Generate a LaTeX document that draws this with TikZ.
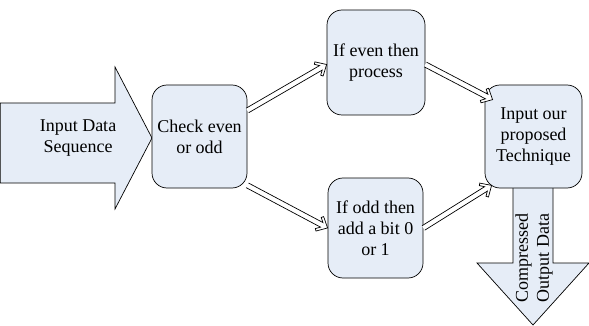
\documentclass[tikz,border=0pt]{standalone}
\usepackage{fontspec}
\setmainfont{Liberation Serif}
\usetikzlibrary{calc}
\definecolor{boxfill}{RGB}{230,237,247}
% hollow double-line connector with an open chevron head, drawn from #1 to #2
\newcommand\flowarrow[2]{%
  \draw[flowline] let \p1=($(#2)-(#1)$), \n1={veclen(\x1,\y1)}, \n2={atan2(\y1,\x1)} in
    [shift={(#1)}, rotate=\n2]
    (0pt,2.6pt) -- ({\n1-6.6pt},2.6pt) -- ({\n1-10.5pt},6.3pt) -- ({\n1-8.8pt},8.2pt)
    -- ({\n1+0pt},0pt)
    -- ({\n1-8.8pt},-8.2pt) -- ({\n1-10.5pt},-6.3pt) -- ({\n1-6.6pt},-2.6pt)
    -- (0pt,-2.6pt);}
\begin{document}
\begin{tikzpicture}[x=1pt,y=-1pt,
  stage/.style={draw=black, line width=0.7pt, fill=boxfill, rounded corners=15pt,
    align=center, inner sep=0pt, font=\fontsize{18}{21}\selectfont},
  flowline/.style={draw=black, line width=0.7pt, fill=white, line join=miter},
  bigarrow/.style={draw=black, line width=0.7pt, fill=boxfill},
  arrowtext/.style={align=center, inner sep=0pt, font=\fontsize{18}{21}\selectfont}]
\useasboundingbox (0,0) rectangle (589,326);

% block arrows for the data entering and leaving the process
\draw[bigarrow] (0.4,103) -- (115,103) -- (115,67) -- (152,138) -- (115,209)
  -- (115,183) -- (0.4,183) -- cycle;
\node[arrowtext] (inlabel) at (78,138) {Input Data\\Sequence};

\draw[bigarrow] (513,180) -- (553,180) -- (553,263) -- (589,263) -- (533,325)
  -- (477,263) -- (513,263) -- cycle;
\node[arrowtext, rotate=90] (outlabel) at (534,258) {Compressed\\Output Data};

% processing stages
\node[stage, minimum width=95pt, minimum height=103pt] (check) at (199.5,136.5) {Check even\\or odd};
\node[stage, minimum width=98pt, minimum height=105pt] (even) at (376,62.5) {If even then\\process};
\node[stage, minimum width=95pt, minimum height=100pt] (odd) at (375.5,228) {If odd then\\add a bit 0\\or 1};
\node[stage, minimum width=97pt, minimum height=103pt] (tech) at (533.5,136.5) {Input our\\proposed\\Technique};

% connectors between the stages
\flowarrow{[yshift=26pt]check.east}{[yshift=-2pt]even.west}
\flowarrow{[yshift=-2pt]even.east}{[shift={(8pt,-15pt)}]tech.north west}
\flowarrow{[yshift=3pt]check.south east}{odd.west}
\flowarrow{odd.east}{[shift={(7pt,3pt)}]tech.south west}
\end{tikzpicture}
\end{document}
